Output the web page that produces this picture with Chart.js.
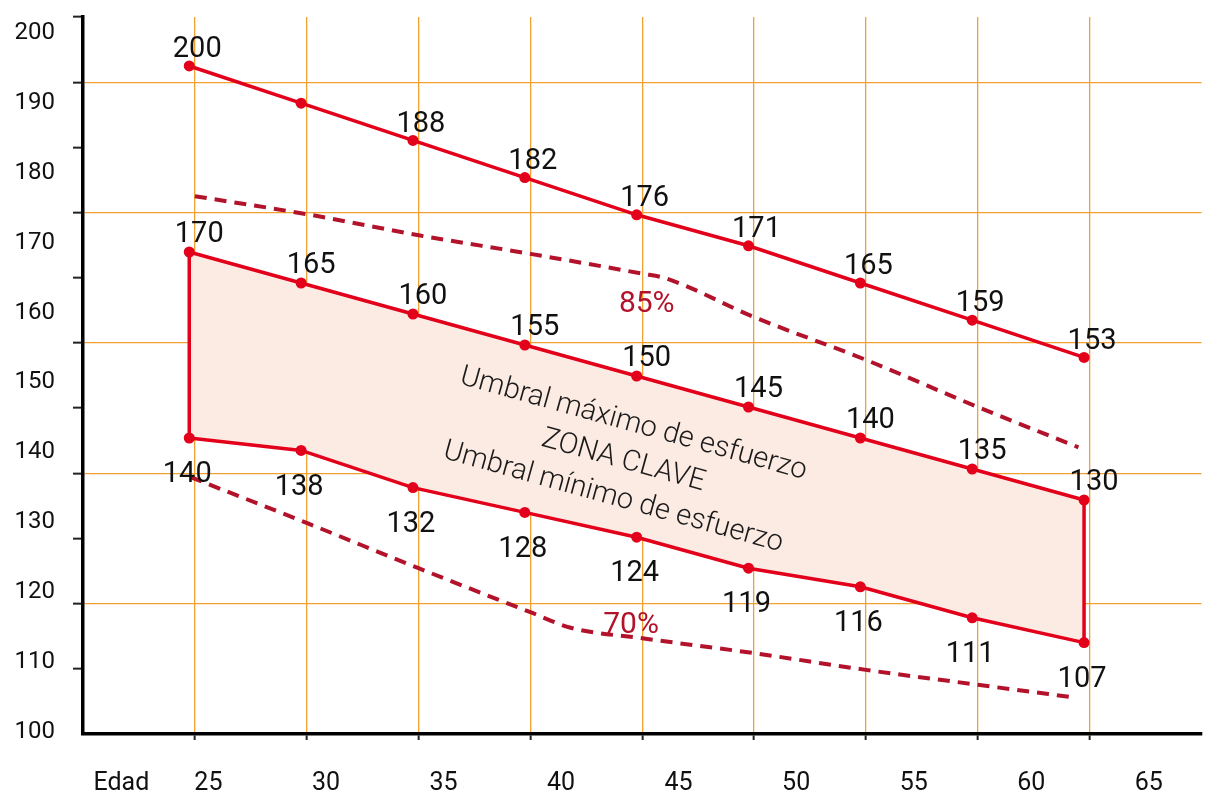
<!DOCTYPE html>
<html lang="es">
<head>
<meta charset="utf-8">
<title>Frecuencia cardíaca por edad</title>
<script src="https://cdn.jsdelivr.net/npm/chart.js@4/dist/chart.umd.min.js"></script>
<style>
  html, body { margin: 0; padding: 0; background: #ffffff; overflow: hidden; }
  #chart { display: block; }
</style>
</head>
<body>
<canvas id="chart" width="1207" height="791"></canvas>
<script>
// Edades (años) de cada punto de las líneas continuas
const AGES = [25, 30, 35, 40, 45, 50, 55, 60, 65];
// Frecuencia cardíaca máxima
const FC_MAX = [200, 194, 188, 182, 176, 171, 165, 159, 153];
const FC_MAX_LABELLED = [true, false, true, true, true, true, true, true, true];
// Umbral máximo de esfuerzo (borde superior de la zona clave)
const UMBRAL_MAX = [170, 165, 160, 155, 150, 145, 140, 135, 130];
// Umbral mínimo de esfuerzo (borde inferior de la zona clave)
const UMBRAL_MIN = [140, 138, 132, 128, 124, 119, 116, 111, 107];
// Curvas de referencia discontinuas (85 % y 70 %)
const PCT85_AGES = [25, 30, 35, 40, 45, 46, 50, 55, 60, 64.5];
const PCT85 = [179, 176.1, 172.7, 169.7, 166.5, 165.8, 159.5, 152.6, 145, 138.5];
const PCT70_AGES = [24.8, 30, 35, 40, 41.8, 45, 50, 55, 60, 64.4];
const PCT70 = [133.7, 126.3, 119, 111.9, 109.4, 107.7, 105.3, 102.6, 100.2, 98.1];
// Rótulos de los ejes
const Y_TICKS = [100, 110, 120, 130, 140, 150, 160, 170, 180, 190, 200];
const X_TICKS = [25, 30, 35, 40, 45, 50, 55, 60, 65];
const X_TITLE = 'Edad';
const ZONE_TEXT = ['Umbral máximo de esfuerzo', 'ZONA CLAVE', 'Umbral mínimo de esfuerzo'];

const RED = '#e3001b';
const DARK_RED = '#b2122a';
const BAND = '#fcebe3';
const ORANGE = '#f3a032';
const INK = '#111111';

const points = (xs, ys) => xs.map((x, i) => ({ x, y: ys[i] }));

// Valores escritos junto a cada punto
const valueLabels = {
  id: 'valueLabels',
  afterDatasetsDraw(chart) {
    const ctx = chart.ctx;
    chart.data.datasets.forEach((ds, i) => {
      const opt = ds.valueLabel;
      if (!opt) return;
      const meta = chart.getDatasetMeta(i);
      ctx.save();
      ctx.font = '29px Roboto';
      ctx.fillStyle = INK;
      ctx.textAlign = 'center';
      ctx.textBaseline = 'middle';
      meta.data.forEach((pt, j) => {
        if (opt.show && !opt.show[j]) return;
        ctx.fillText(String(ds.data[j].y), pt.x + opt.dx, pt.y + opt.dy);
      });
      ctx.restore();
    });
  }
};

// Textos de la zona clave y de las curvas 85 % / 70 %
const notes = {
  id: 'notes',
  afterDatasetsDraw(chart) {
    const { ctx, scales } = chart;
    const x = scales.x, y = scales.y, xg = scales.xGrid;
    const x0 = x.getPixelForValue(AGES[0]);
    const x1 = x.getPixelForValue(AGES[AGES.length - 1]);
    const y0 = y.getPixelForValue(UMBRAL_MAX[0]);
    const y1 = y.getPixelForValue(UMBRAL_MAX[UMBRAL_MAX.length - 1]);
    const angle = Math.atan2(y1 - y0, x1 - x0);

    ctx.save();
    ctx.translate(x.getPixelForValue(44.4), y.getPixelForValue(136.3));
    ctx.rotate(angle);
    ctx.font = '300 29px Roboto';
    ctx.fillStyle = '#1a1a1a';
    ctx.textAlign = 'center';
    ctx.textBaseline = 'middle';
    ZONE_TEXT.forEach((t, k) => ctx.fillText(t, 0, (k - 1) * 38));
    ctx.restore();

    ctx.save();
    ctx.font = '30px Roboto';
    ctx.fillStyle = DARK_RED;
    ctx.textAlign = 'center';
    ctx.textBaseline = 'middle';
    ctx.fillText('85%', xg.getPixelForValue(45.2), y.getPixelForValue(161.5));
    ctx.fillText('70%', xg.getPixelForValue(44.5), y.getPixelForValue(109.8));
    ctx.restore();
  }
};

const solid = {
  borderColor: RED,
  backgroundColor: RED,
  borderWidth: 3.5,
  pointRadius: 5.5,
  pointBorderWidth: 0,
  pointBackgroundColor: RED,
  fill: false,
  tension: 0
};
const edge = { borderColor: RED, borderWidth: 3.5, pointRadius: 0, fill: false };
const dashed = {
  xAxisID: 'xGrid',
  borderColor: DARK_RED,
  borderWidth: 4,
  borderDash: [12, 8],
  pointRadius: 0,
  fill: false,
  cubicInterpolationMode: 'monotone'
};

new Chart(document.getElementById('chart'), {
  type: 'line',
  data: {
    datasets: [
      Object.assign({ label: 'FC máxima', data: points(AGES, FC_MAX),
        valueLabel: { dx: 8, dy: -16, show: FC_MAX_LABELLED } }, solid),
      Object.assign({}, solid, { label: 'Umbral máximo de esfuerzo', data: points(AGES, UMBRAL_MAX),
        fill: { target: 2 }, backgroundColor: BAND,
        valueLabel: { dx: 10, dy: -17 } }),
      Object.assign({ label: 'Umbral mínimo de esfuerzo', data: points(AGES, UMBRAL_MIN),
        valueLabel: { dx: -2, dy: 37 } }, solid),
      Object.assign({ label: 'borde inicial', data: [
        { x: AGES[0], y: UMBRAL_MAX[0] }, { x: AGES[0], y: UMBRAL_MIN[0] }] }, edge),
      Object.assign({ label: 'borde final', data: [
        { x: AGES[AGES.length - 1], y: UMBRAL_MAX[UMBRAL_MAX.length - 1] },
        { x: AGES[AGES.length - 1], y: UMBRAL_MIN[UMBRAL_MIN.length - 1] }] }, edge),
      Object.assign({ label: '85%', data: points(PCT85_AGES, PCT85) }, dashed),
      Object.assign({ label: '70%', data: points(PCT70_AGES, PCT70) }, dashed)
    ]
  },
  options: {
    responsive: false,
    devicePixelRatio: 1,
    animation: false,
    layout: { padding: { top: 17, right: 0, bottom: 0, left: 0 } },
    plugins: {
      legend: { display: false },
      tooltip: { enabled: false },
      filler: { drawTime: 'beforeDatasetsDraw' }
    },
    scales: {
      x: { type: 'linear', display: false, min: 20.25, max: 70.25 },
      y: { type: 'linear', display: false, min: 92.26, max: 207.9 },
      xGrid: {
        type: 'linear', position: 'bottom', weight: 1, min: 20, max: 70,
        afterBuildTicks: s => { const t = []; for (let v = 20; v <= 70; v += 5) t.push({ value: v }); s.ticks = t; },
        ticks: { display: false },
        grid: {
          color: c => (c.tick && c.tick.value > 20 && c.tick.value < 70) ? ORANGE : 'rgba(0,0,0,0)',
          tickColor: c => (c.tick && c.tick.value > 20 && c.tick.value < 70) ? '#222222' : 'rgba(0,0,0,0)',
          lineWidth: 1.3, tickLength: 6, tickWidth: 2
        },
        border: { color: '#000000', width: 3.5 }
      },
      xText: {
        type: 'linear', position: 'bottom', weight: 2, min: 19.667, max: 67.24,
        afterBuildTicks: s => { s.ticks = [{ value: 21.3 }].concat(X_TICKS.map(v => ({ value: v }))); },
        ticks: {
          callback: v => v < X_TICKS[0] ? X_TITLE : String(v),
          font: { family: 'Roboto', size: 25 }, color: INK, padding: 29,
          maxRotation: 0, autoSkip: false
        },
        grid: { display: false, drawTicks: false },
        border: { display: false },
        afterFit: s => { s.height = 51; s.paddingLeft = 0; s.paddingRight = 0; }
      },
      yGrid: {
        type: 'linear', position: 'left', weight: 1, min: 0, max: 11,
        afterBuildTicks: s => { const t = []; for (let v = 0; v <= 11; v++) t.push({ value: v }); s.ticks = t; },
        ticks: { display: false },
        grid: {
          color: c => (c.tick && c.tick.value > 0 && c.tick.value < 11 && c.tick.value % 2 === 0) ? ORANGE : 'rgba(0,0,0,0)',
          tickColor: c => (c.tick && c.tick.value > 0) ? '#222222' : 'rgba(0,0,0,0)',
          lineWidth: 1.3, tickLength: 10, tickWidth: 2
        },
        border: { color: '#000000', width: 3.5 }
      },
      yText: {
        type: 'linear', position: 'left', weight: 2, min: 99.71, max: 202.29,
        afterBuildTicks: s => { s.ticks = Y_TICKS.map(v => ({ value: v })); },
        ticks: { font: { family: 'Roboto', size: 24 }, color: INK, padding: 18 },
        grid: { display: false, drawTicks: false },
        border: { display: false },
        afterFit: s => { s.width = 73; s.paddingTop = 0; s.paddingBottom = 0; }
      }
    }
  },
  plugins: [valueLabels, notes]
});
</script>
</body>
</html>
